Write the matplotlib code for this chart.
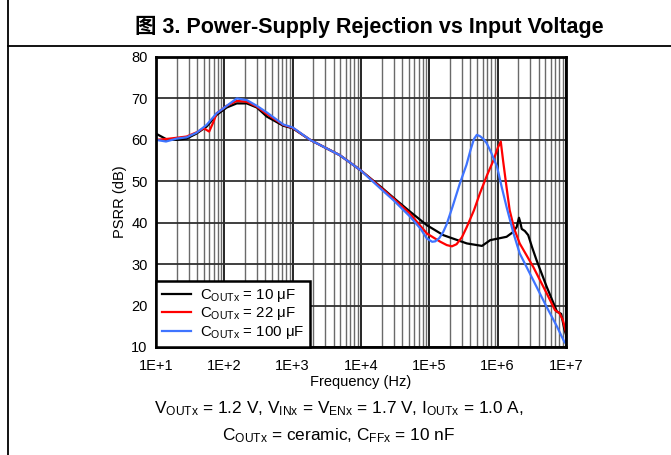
import matplotlib
matplotlib.use("Agg")
import matplotlib.pyplot as plt
from matplotlib.lines import Line2D
from matplotlib.ticker import LogLocator, FixedLocator, NullFormatter
import numpy as np

plt.rcParams['font.family'] = ['Liberation Sans', 'Noto Sans CJK SC', 'DejaVu Sans']
plt.rcParams['mathtext.fontset'] = 'custom'
plt.rcParams['mathtext.rm'] = 'Liberation Sans'
plt.rcParams['mathtext.it'] = 'Liberation Sans'
plt.rcParams['mathtext.default'] = 'rm'

# ---- data ----
freq_10uF = [10, 14, 20, 28, 39, 55, 77, 108, 152, 213, 300, 420, 730, 1000, 1800, 4900,
             9800, 20000, 30000, 52000, 92000, 160000, 354000, 590000, 780000, 1350000,
             1700000, 1900000, 2050000, 2150000, 2250000, 2500000, 2800000, 3200000, 3700000,
             5200000, 7400000, 8500000, 9400000, 10000000]
psrr_10uF = [61.5, 60.2, 60.0, 60.3, 61.5, 63.2, 66.0, 67.8, 68.8, 68.8, 67.8, 65.6, 63.4, 62.8,
             60.0, 56.3, 52.7, 48.5, 46.0, 42.7, 39.4, 37.0, 35.0, 34.4, 35.8, 36.6,
             37.8, 39.0, 41.2, 40.0, 38.5, 38.0, 37.0, 34.0, 31.0,
             24.6, 18.5, 18.0, 14.5, 13.0]

freq_22uF = [10, 14, 20, 28, 39, 50, 60, 70, 77, 108, 152, 213, 300, 420, 730, 1000, 1800, 4900,
             9800, 20000, 30000, 52000, 92000, 145000, 180000, 214000, 250000, 300000, 354000,
             450000, 550000, 700000, 870000, 1000000, 1110000, 1200000, 1350000, 1500000,
             1750000, 2100000, 3300000, 5200000, 6900000, 8000000, 9000000, 10000000]
psrr_22uF = [60.0, 60.2, 60.5, 60.8, 61.8, 62.8, 62.0, 64.5, 66.4, 68.2, 69.4, 69.2, 68.0, 66.2,
             63.6, 62.9, 60.0, 56.3, 52.7, 48.3, 45.8, 42.2, 37.4, 35.4, 34.6, 34.3, 34.8,
             36.5, 39.0, 43.0, 47.1, 51.5, 55.1, 58.0, 59.6, 55.0, 48.5, 43.0, 38.5, 35.0,
             29.4, 23.0, 18.9, 18.2, 16.5, 13.5]

freq_100uF = [10, 14, 20, 28, 39, 55, 77, 108, 152, 213, 300, 420, 730, 1000, 1800, 4900,
              9800, 20000, 30000, 52000, 74000, 92000, 110000, 122000, 140000, 160000, 178000,
              220000, 280000, 350000, 400000, 450000, 495000, 550000, 620000, 690000, 800000,
              980000, 1150000, 1350000, 1700000, 2100000, 3300000, 5200000, 7400000, 9400000,
              10000000]
psrr_100uF = [60.0, 59.6, 60.3, 60.6, 61.7, 63.6, 66.4, 68.2, 70.0, 69.6, 68.2, 66.6, 63.7,
              63.0, 60.0, 56.3, 52.7, 48.0, 45.4, 41.5, 38.6, 36.2, 35.4, 35.5, 36.3, 37.8, 39.5,
              44.0, 49.5, 54.0, 57.5, 60.2, 61.2, 60.9, 60.2, 59.2, 57.0, 53.5, 48.5, 43.8, 37.5,
              32.6, 26.2, 19.7, 14.9, 11.3, 10.8]

series_labels = [r'C$_{\mathrm{OUTx}}$ = 10 μF', r'C$_{\mathrm{OUTx}}$ = 22 μF',
                 r'C$_{\mathrm{OUTx}}$ = 100 μF']
series_colors = ['#000000', '#ff0000', '#3f74ff']
x_tick_vals = [1e1, 1e2, 1e3, 1e4, 1e5, 1e6, 1e7]
x_tick_labels = ['1E+1', '1E+2', '1E+3', '1E+4', '1E+5', '1E+6', '1E+7']
y_tick_vals = [10, 20, 30, 40, 50, 60, 70, 80]

W, H = 671, 455
fig = plt.figure(figsize=(W / 100, H / 100), dpi=100)
ax = fig.add_axes([156 / W, 1 - 347 / H, (566 - 156) / W, (347 - 57) / H])

ax.set_xscale('log')
ax.set_xlim(1e1, 1e7)
ax.set_ylim(10, 80)

# grid
ax.xaxis.set_major_locator(FixedLocator(x_tick_vals))
ax.xaxis.set_minor_locator(LogLocator(base=10, subs=np.arange(2, 10), numticks=20))
ax.xaxis.set_minor_formatter(NullFormatter())
ax.set_yticks(y_tick_vals)
ax.set_xticklabels(x_tick_labels)
ax.grid(True, which='minor', axis='x', color='#6a6a6a', lw=1.0)
ax.grid(True, which='major', axis='x', color='#000000', lw=1.2)
ax.grid(True, which='major', axis='y', color='#303030', lw=1.3)
ax.tick_params(which='both', length=0, labelsize=10.5)
ax.tick_params(axis='x', pad=9)
ax.tick_params(axis='y', pad=6)

for x, y, c, lab in zip([freq_10uF, freq_22uF, freq_100uF],
                        [psrr_10uF, psrr_22uF, psrr_100uF], series_colors, series_labels):
    ax.plot(x, y, color=c, lw=1.6, label=lab, zorder=3)

for s in ax.spines.values():
    s.set_linewidth(2.0)
    s.set_zorder(4)

leg = ax.legend(loc='lower left', bbox_to_anchor=(0, 0), borderaxespad=0,
                fontsize=10.8, frameon=True, fancybox=False, framealpha=1,
                edgecolor='black', handlelength=1.9, handletextpad=0.6,
                labelspacing=0.1, borderpad=0.4)
leg.get_frame().set_linewidth(1.8)
leg.set_zorder(5)

ax.set_xlabel('Frequency (Hz)', fontsize=10.5, labelpad=1)
ax.set_ylabel('PSRR (dB)', fontsize=10.5, labelpad=3)

# title
fig.text(369 / W, 1 - 27 / H, '图 3. Power-Supply Rejection vs Input Voltage',
         ha='center', va='center', fontsize=15.5, fontweight='bold')

# caption
fig.text(339 / W, 1 - 409 / H,
         r'V$_{\mathrm{OUTx}}$ = 1.2 V, V$_{\mathrm{INx}}$ = V$_{\mathrm{ENx}}$ = 1.7 V, I$_{\mathrm{OUTx}}$ = 1.0 A,',
         ha='center', va='center', fontsize=12.4)
fig.text(339 / W, 1 - 436 / H, r'C$_{\mathrm{OUTx}}$ = ceramic, C$_{\mathrm{FFx}}$ = 10 nF',
         ha='center', va='center', fontsize=12.4)

# page frame lines
fig.add_artist(Line2D([8 / W, 8 / W], [0, 1], color='black', lw=1.3, transform=fig.transFigure))
fig.add_artist(Line2D([8 / W, 1], [1 - 46 / H, 1 - 46 / H], color='black', lw=1.3,
                      transform=fig.transFigure))

fig.savefig('out.png', dpi=100)
